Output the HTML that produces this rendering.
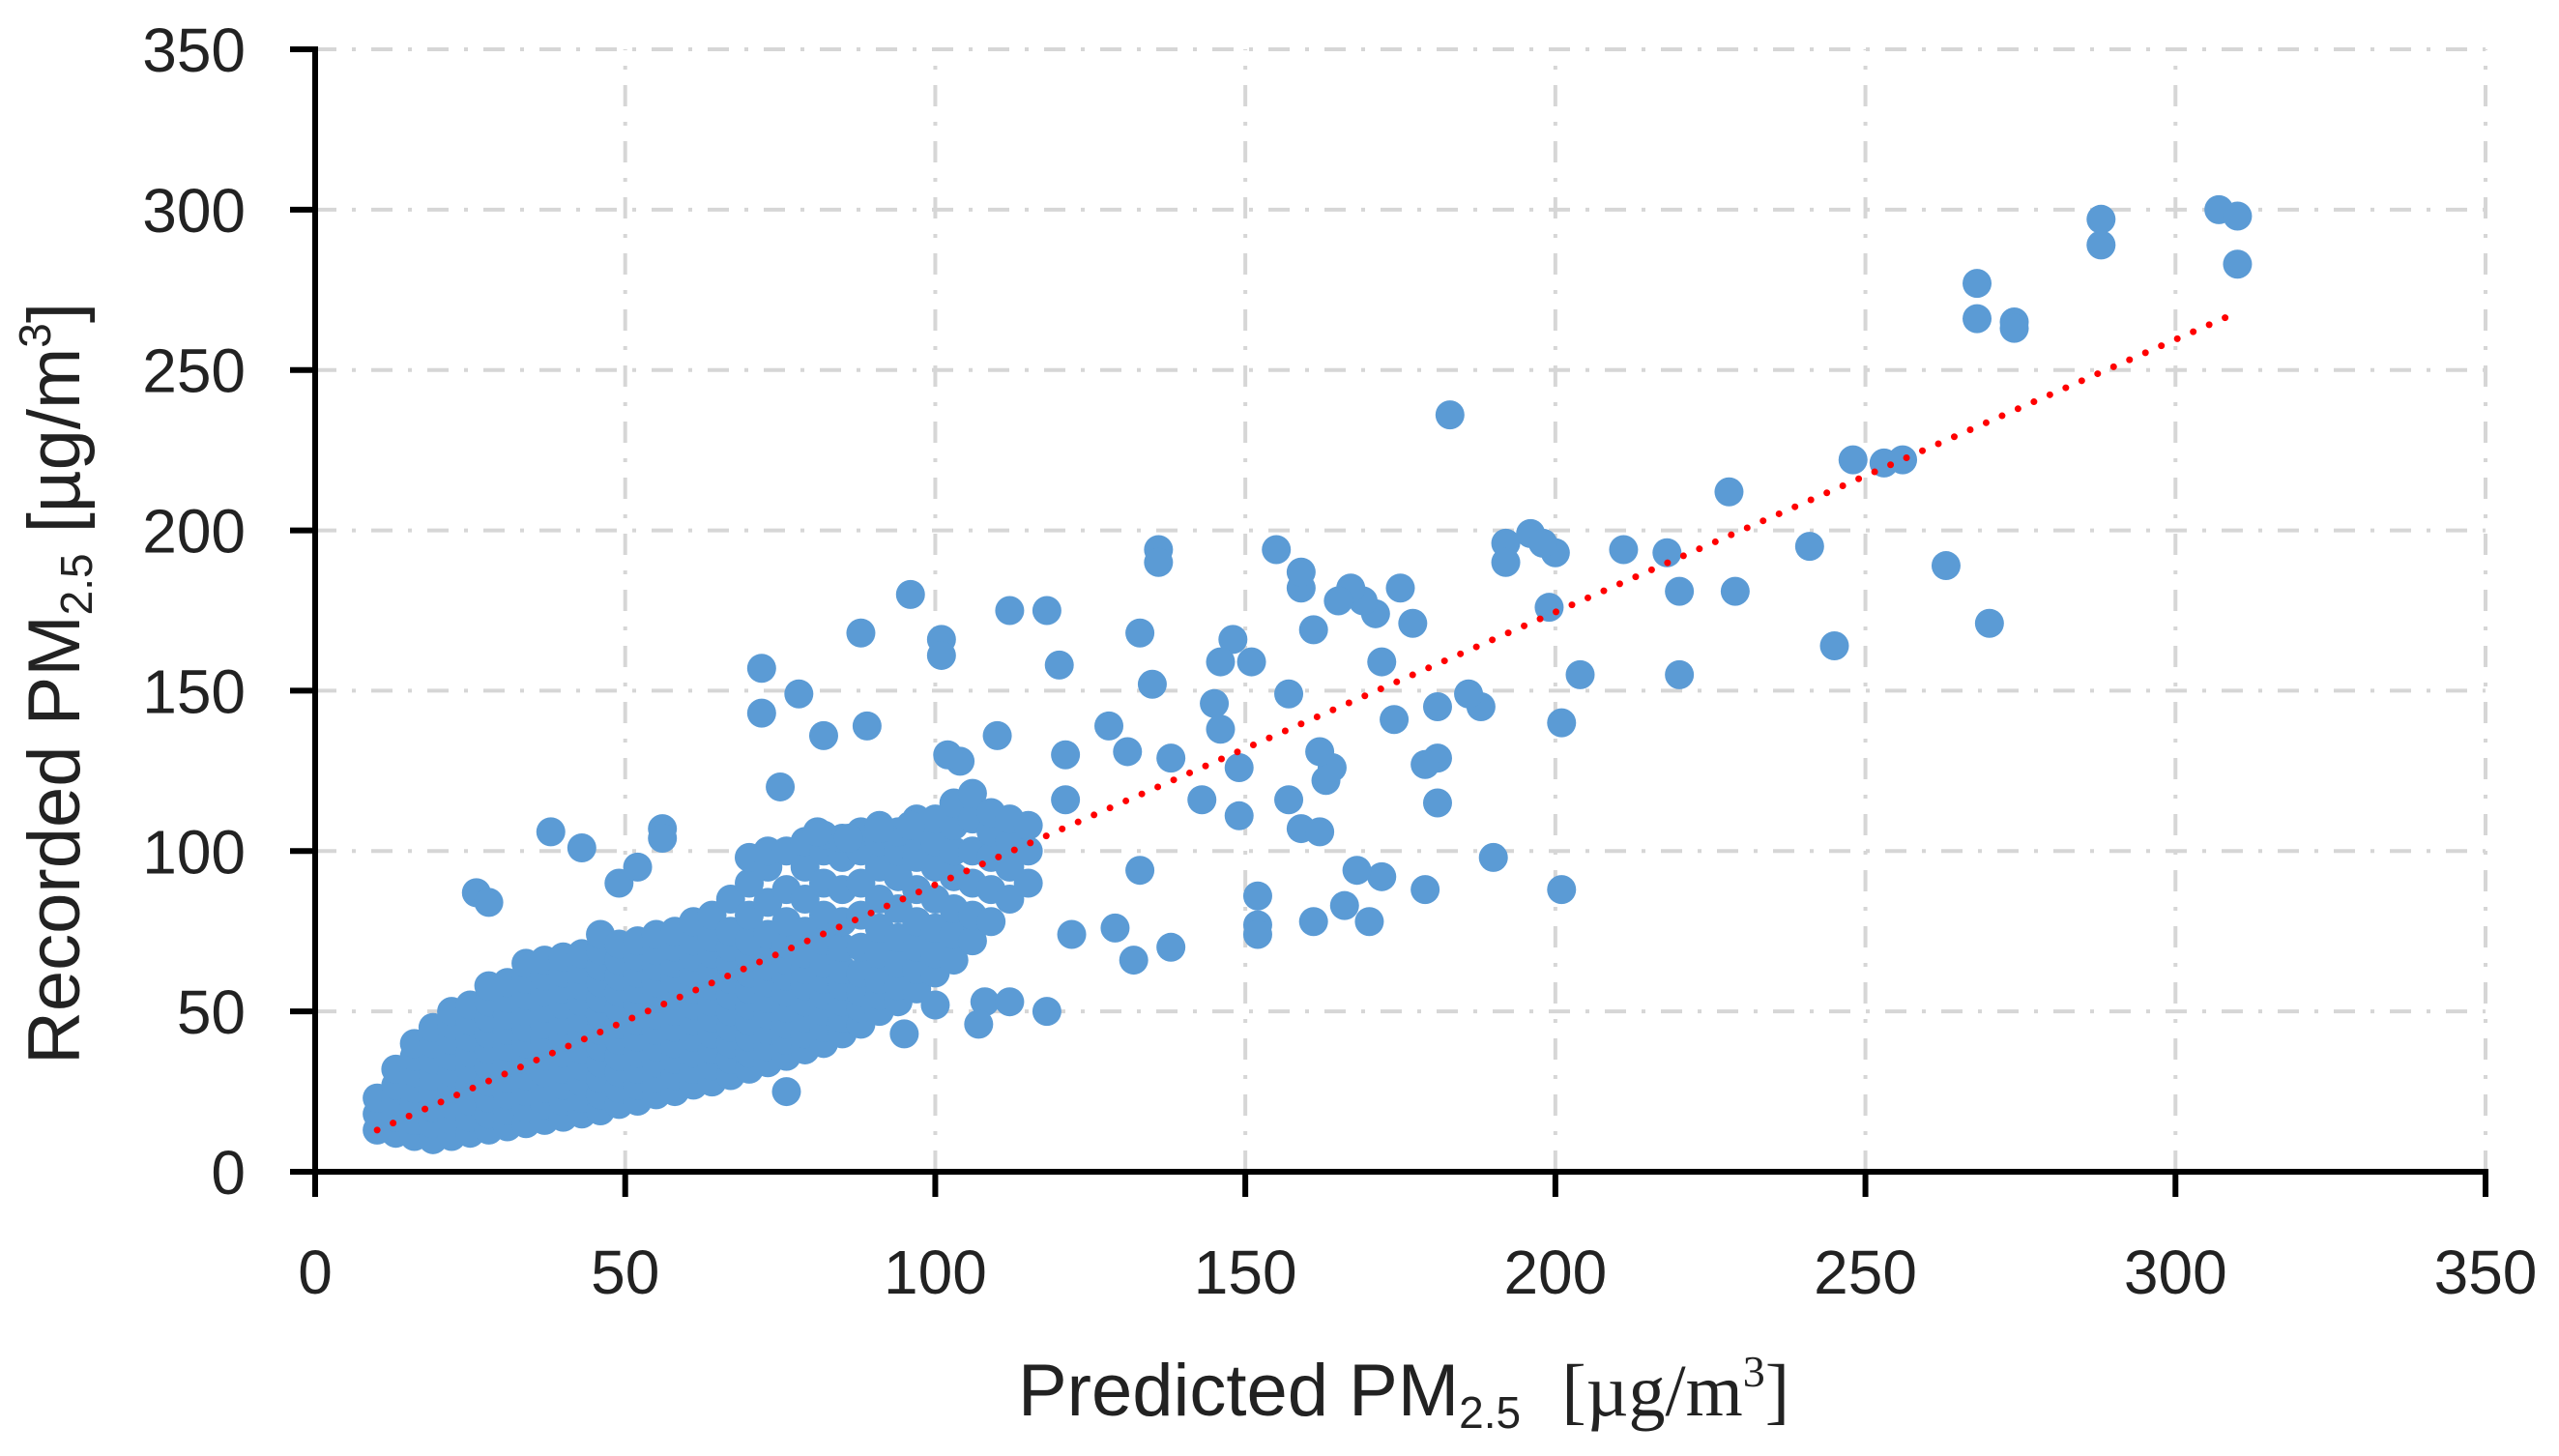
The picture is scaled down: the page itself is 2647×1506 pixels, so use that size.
<!DOCTYPE html>
<html><head><meta charset="utf-8"><style>
html,body{margin:0;padding:0;background:#fff;}
svg{display:block;}
text{font-family:"Liberation Sans",sans-serif;fill:#222;}
</style></head><body>
<svg id="chart" width="2647" height="1506" viewBox="0 0 2647 1506" xmlns="http://www.w3.org/2000/svg">
<g id="grid"></g>
<g id="points"></g>
<g id="trend"></g>
<g id="axes"></g>
<text x="1452" y="1464" text-anchor="middle" font-size="76">Predicted PM<tspan font-size="46" dy="13">2.5</tspan><tspan dy="-13" xml:space="preserve">  </tspan><tspan font-family="Liberation Serif, serif">[µg/m<tspan font-size="46" dy="-30">3</tspan><tspan dy="30">]</tspan></tspan></text>
<text transform="translate(82,707) rotate(-90)" text-anchor="middle" font-size="76">Recorded PM<tspan font-size="46" dy="13">2.5</tspan><tspan dy="-13"> [µg/m</tspan><tspan font-size="46" dy="-30">3</tspan><tspan dy="30">]</tspan></text>
</svg>
<script>
const xTicks=[0,50,100,150,200,250,300,350];
const yTicks=[0,50,100,150,200,250,300,350];
const cloudX=[10,13,16,19,22,25,28,31,34,37,40,43,46,49,52,55,58,61,64,67,70,73,76,79,82,85,88,91,94,97,100,103,106,109,112,115];
const cloudY=[
[13,18,23],[12,17,22,27,32],[11,16,21,26,31,36,40],[10,15,20,25,30,35,40,45],
[11,16,21,26,31,36,41,46,50],[12,17,22,27,32,37,42,47,52],[13,18,23,28,33,38,43,48,53,58],
[14,19,24,29,34,39,44,49,54,59],[15,20,25,30,35,40,45,50,55,60,65],[16,21,26,31,36,41,46,51,56,61,66],
[17,22,27,32,37,42,47,52,57,62,67],[18,23,28,33,38,43,48,53,58,63,68],[19,24,29,34,39,44,49,54,59,64,69,74],
[21,26,31,36,41,46,51,56,61,66,71,90],[22,27,32,37,42,47,52,57,62,67,72,95],[24,29,34,39,44,49,54,59,64,69,74],
[25,30,35,40,45,50,55,60,65,70,75],[27,32,37,42,47,52,57,62,67,72,78],[28,33,38,43,48,53,58,63,68,73,80],
[30,35,40,45,50,55,60,65,70,75,85],[32,37,42,47,52,57,62,67,72,80,90,98],[34,39,44,49,54,59,64,69,74,84,95,100],
[36,41,46,51,56,61,66,71,78,88,100],[38,43,48,53,58,63,68,75,85,95,103],[40,45,50,55,60,65,72,80,90,100,105],
[43,48,53,58,63,70,78,88,98,104],[46,51,56,62,70,80,90,100,106],[50,55,60,68,76,85,95,103,108],
[53,58,65,73,82,92,100,106],[57,63,70,78,88,98,105,110],[62,68,76,85,95,103,110],
[66,74,82,92,100,108,115],[72,80,90,100,110,118],[78,88,98,106,112],[85,95,103,110],[90,100,108]];
const outX=[307,310,310,288,288,268,268,274,274,270,263,245,241,248,253,256,228,229,220,220,218,211,204,201,201,199,200,196,192,192,198,183,190,188,186,181,181,181,179,179,177,175,174,172,171,169,167,165,172,170,168,166,161,163,164,162,161,159,159,155,157,157,159,162,152,152,152,149,149,151,148,146,145,146,143,136,136,135,133,138,131,133,132,129,138,128,121,121,122,118,120,118,112,110,104,101,101,96,88,89,82,102,108,107,100,112,95,72,72,78,75,76,56,56,26,28,38,43,81,86,91,96];
const outY=[300,298,283,297,289,277,266,265,263,171,189,164,195,222,221,222,212,181,181,155,193,194,155,140,88,176,193,199,196,190,196,236,98,145,149,145,129,115,127,88,171,182,141,159,174,178,182,178,92,78,94,83,78,122,126,131,169,182,187,194,149,116,107,106,86,77,74,111,126,159,166,159,146,138,116,194,190,152,168,129,131,94,66,76,70,139,130,116,74,50,158,175,175,136,128,166,161,180,168,139,136,130,53,46,52,53,43,157,143,149,120,25,107,104,87,84,106,101,106,104,107,108];
const trendX=[10,310];
const trendY=[13,268];

const NS="http://www.w3.org/2000/svg";
const X0=326,X1=2571,Y0=1212,Y1=51;
function sx(v){return X0+(X1-X0)*v/350;}
function sy(v){return Y0-(Y0-Y1)*v/350;}
function mk(tag,attrs,parent){const e=document.createElementNS(NS,tag);for(const k in attrs)e.setAttribute(k,attrs[k]);parent.appendChild(e);return e;}
const grid=document.getElementById('grid');
xTicks.forEach(t=>{if(t===0)return;
 const l=mk('line',{x1:sx(t),x2:sx(t),y1:Y0,y2:Y1,stroke:'#d6d6d6','stroke-width':4,'stroke-dasharray':'22 16 4 16'},grid);
 
 });
yTicks.forEach(t=>{if(t===0)return;
 const l=mk('line',{x1:X0,x2:X1,y1:sy(t),y2:sy(t),stroke:'#d6d6d6','stroke-width':4,'stroke-dasharray':'22 16 4 16'},grid);
 
 });
const pts=document.getElementById('points');
function dot(x,y){const c=mk('circle',{cx:sx(x),cy:sy(y),r:15,fill:'#5b9bd5'},pts);
 
 }
cloudX.forEach((x,i)=>cloudY[i].forEach(y=>dot(x,y)));
outX.forEach((x,i)=>dot(x,outY[i]));
const tr=mk('line',{x1:sx(trendX[0]),y1:sy(trendY[0]),x2:sx(trendX[1]),y2:sy(trendY[1]),stroke:'#ff0000','stroke-width':7,'stroke-linecap':'round','stroke-dasharray':'0 18'},document.getElementById('trend'));


const ax=document.getElementById('axes');
const xa=mk('line',{x1:X0-25,x2:X1+3,y1:Y0,y2:Y0,stroke:'#000','stroke-width':6},ax);


const ya=mk('line',{x1:X0,x2:X0,y1:Y0+25,y2:Y1-3,stroke:'#000','stroke-width':6},ax);


xTicks.forEach(t=>{
 const tk=mk('line',{x1:sx(t),x2:sx(t),y1:Y0,y2:Y0+26,stroke:'#000','stroke-width':6},ax);
 
 
 const tx=mk('text',{x:sx(t),y:1338,'text-anchor':'middle','font-size':64},ax);tx.textContent=t;
 
 });
yTicks.forEach(t=>{
 const tk=mk('line',{x1:X0-26,x2:X0,y1:sy(t),y2:sy(t),stroke:'#000','stroke-width':6},ax);
 
 
 const tx=mk('text',{x:254,y:sy(t)+23,'text-anchor':'end','font-size':64},ax);tx.textContent=t;
 
 });
</script>
</body></html>
